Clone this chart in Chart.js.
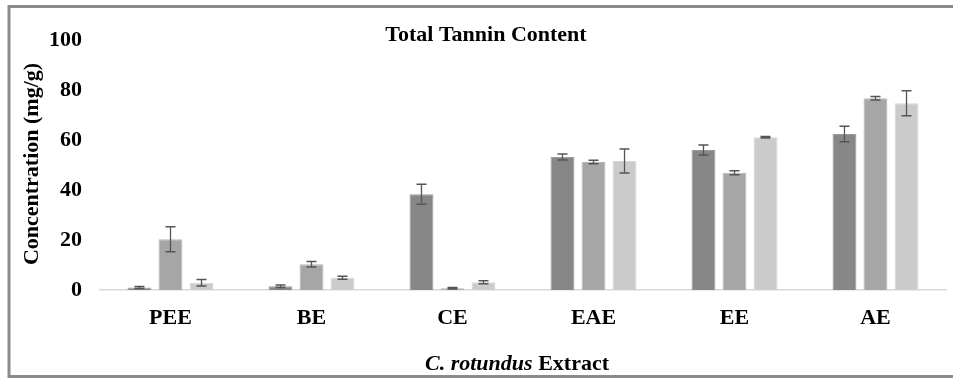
<!DOCTYPE html>
<html>
<head>
<meta charset="utf-8">
<script src="https://cdn.jsdelivr.net/npm/chart.js@4.4.1/dist/chart.umd.min.js"></script>
<style>
  html, body { margin: 0; padding: 0; background: #ffffff; }
  #wrap { width: 953px; height: 379px; position: relative; }
</style>
</head>
<body>
<div id="wrap"><canvas id="c" width="953" height="379"></canvas></div>
<script>
// Extract categories on the x axis
const extracts = ['PEE', 'BE', 'CE', 'EAE', 'EE', 'AE'];
// Tannin concentration (mg/g) for the three replicate series
const series1 = [1.0, 1.5, 38.3, 53.2, 56.0, 62.4];
const series2 = [20.3, 10.3, 0.7, 51.2, 46.9, 76.7];
const series3 = [2.9, 4.9, 3.1, 51.6, 61.1, 74.7];
// Standard deviations shown as error bars
const error1 = [0.4, 0.5, 4.0, 1.2, 2.0, 3.1];
const error2 = [5.0, 1.1, 0.3, 0.7, 0.8, 0.7];
const error3 = [1.3, 0.6, 0.6, 4.8, 0.3, 5.0];
// Y axis tick values
const yTicks = [0, 20, 40, 60, 80, 100];

const serif = "'Liberation Serif', 'Times New Roman', serif";

// Frame around the figure, the chart title and both axis titles
const decorations = {
  id: 'decorations',
  beforeDraw(chart) {
    const ctx = chart.ctx;
    ctx.save();
    ctx.fillStyle = '#ffffff';
    ctx.fillRect(0, 0, chart.width, chart.height);
    ctx.strokeStyle = '#8c8c8c';
    ctx.lineWidth = 3;
    ctx.strokeRect(9, 6.5, chart.width + 10, 370);
    ctx.restore();
  },
  afterDraw(chart) {
    const ctx = chart.ctx;
    ctx.save();
    ctx.fillStyle = '#000000';
    ctx.textBaseline = 'middle';
    ctx.textAlign = 'center';
    ctx.font = 'bold 22px ' + serif;
    ctx.fillText('Total Tannin Content', 486, 35);

    // Rotated y axis title
    ctx.save();
    ctx.translate(32, 164);
    ctx.rotate(-Math.PI / 2);
    ctx.font = 'bold 22px ' + serif;
    ctx.fillText('Concentration (mg/g)', 0, 0);
    ctx.restore();

    // "C. rotundus Extract" — species name in italics
    const italicPart = 'C. rotundus';
    const plainPart = ' Extract';
    ctx.font = 'italic bold 22px ' + serif;
    const w1 = ctx.measureText(italicPart).width;
    ctx.font = 'bold 22px ' + serif;
    const w2 = ctx.measureText(plainPart).width;
    const x = 517 - (w1 + w2) / 2;
    ctx.textAlign = 'left';
    ctx.font = 'italic bold 22px ' + serif;
    ctx.fillText(italicPart, x, 364);
    ctx.font = 'bold 22px ' + serif;
    ctx.fillText(plainPart, x + w1, 364);
    ctx.restore();
  }
};

// Error bars drawn on top of each bar from the named deviation arrays
const errorBars = {
  id: 'errorBars',
  afterDatasetsDraw(chart) {
    const ctx = chart.ctx;
    const yScale = chart.scales.y;
    const errs = [error1, error2, error3];
    ctx.save();
    ctx.strokeStyle = '#555555';
    ctx.lineWidth = 1.3;
    chart.data.datasets.forEach((ds, di) => {
      const meta = chart.getDatasetMeta(di);
      meta.data.forEach((bar, i) => {
        const v = ds.data[i];
        const e = errs[di][i];
        const yTop = yScale.getPixelForValue(v + e);
        const yBot = yScale.getPixelForValue(Math.max(0, v - e));
        const x = bar.x;
        const cap = 5;
        ctx.beginPath();
        ctx.moveTo(x, yTop); ctx.lineTo(x, yBot);
        ctx.moveTo(x - cap, yTop); ctx.lineTo(x + cap, yTop);
        ctx.moveTo(x - cap, yBot); ctx.lineTo(x + cap, yBot);
        ctx.stroke();
      });
    });
    ctx.restore();
  }
};

new Chart(document.getElementById('c'), {
  type: 'bar',
  data: {
    labels: extracts,
    datasets: [
      { label: 'Series 1', data: series1, backgroundColor: '#878787', borderColor: '#9a9a9a', borderWidth: 1 },
      { label: 'Series 2', data: series2, backgroundColor: '#a6a6a6', borderColor: '#b6b6b6', borderWidth: 1 },
      { label: 'Series 3', data: series3, backgroundColor: '#cbcbcb', borderColor: '#d6d6d6', borderWidth: 1 }
    ]
  },
  options: {
    responsive: false,
    animation: false,
    devicePixelRatio: 1,
    categoryPercentage: 0.66,
    barPercentage: 0.77,
    layout: { padding: { top: 40, right: 7, bottom: 0, left: 0 } },
    plugins: {
      legend: { display: false },
      title: { display: false },
      tooltip: { enabled: false }
    },
    scales: {
      x: {
        grid: { display: false, drawTicks: false },
        border: { display: true, color: '#d9d9d9', width: 1.5 },
        ticks: {
          color: '#000000',
          padding: 15,
          font: { family: serif, size: 22, weight: 'bold' }
        },
        afterFit(scale) { scale.height = 89; }
      },
      y: {
        min: 0,
        max: 100,
        afterBuildTicks(scale) { scale.ticks = yTicks.map(v => ({ value: v })); },
        grid: { display: false, drawTicks: false },
        border: { display: false },
        ticks: {
          color: '#000000',
          padding: 18,
          font: { family: serif, size: 22, weight: 'bold' }
        },
        afterFit(scale) { scale.width = 100; }
      }
    }
  },
  plugins: [decorations, errorBars]
});
</script>
</body>
</html>
